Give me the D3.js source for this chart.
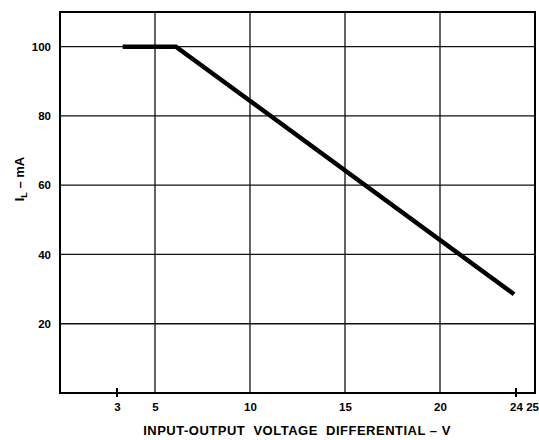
<!DOCTYPE html>
<html>
<head>
<meta charset="utf-8">
<script src="https://cdn.jsdelivr.net/npm/d3@7/dist/d3.min.js"></script>
<style>
  html, body { margin: 0; padding: 0; background: #fff; }
  svg { display: block; font-family: "Liberation Sans", Arial, sans-serif; font-weight: bold; }
</style>
</head>
<body>
<svg id="chart" width="539" height="440"></svg>
<script>
// Data
const lineX = [3.3, 6.1, 23.9];
const lineY = [100, 100, 28.5];
const xTickLabels = [3, 5, 10, 15, 20, 24, 25];
const xGrid = [5, 10, 15, 20];
const xMinorTicks = [3, 24];
const yTickLabels = [20, 40, 60, 80, 100];
const xTitle = "INPUT-OUTPUT  VOLTAGE  DIFFERENTIAL – V";

(function () {
const svg = d3.select("#chart");
const mLeft = 60, mRight = 535, mTop = 12, mBottom = 393;

const x = d3.scaleLinear().domain([0, 25]).range([mLeft, mRight]);
const y = d3.scaleLinear().domain([0, 110]).range([mBottom, mTop]);

// Grid lines
svg.append("g").selectAll("line").data(xGrid).join("line")
  .attr("x1", d => x(d)).attr("x2", d => x(d))
  .attr("y1", mTop).attr("y2", mBottom)
  .attr("stroke", "#111").attr("stroke-width", 1.3);

svg.append("g").selectAll("line").data(yTickLabels).join("line")
  .attr("x1", mLeft).attr("x2", mRight)
  .attr("y1", d => y(d)).attr("y2", d => y(d))
  .attr("stroke", "#111").attr("stroke-width", 1.3);

// Frame
svg.append("rect")
  .attr("x", mLeft).attr("y", mTop)
  .attr("width", mRight - mLeft).attr("height", mBottom - mTop)
  .attr("fill", "none").attr("stroke", "#000").attr("stroke-width", 2);

// Minor ticks on x axis
svg.append("g").selectAll("line").data(xMinorTicks).join("line")
  .attr("x1", d => x(d)).attr("x2", d => x(d))
  .attr("y1", mBottom - 5).attr("y2", mBottom + 4)
  .attr("stroke", "#000").attr("stroke-width", 2);

// X axis labels
const xAxis = d3.axisBottom(x).tickValues(xTickLabels).tickSize(0).tickPadding(10).tickFormat(d3.format("d"));
const gx = svg.append("g").attr("transform", `translate(0,${mBottom})`).call(xAxis);
gx.select(".domain").remove();
gx.selectAll("text").attr("font-size", 11.5).attr("font-weight", "bold")
  .attr("font-family", "Liberation Sans, Arial, sans-serif").attr("fill", "#000");
// keep the last label inside the picture
gx.selectAll(".tick").filter(d => d === 25).select("text")
  .attr("text-anchor", "end").attr("x", 3.5);

// Y axis labels
const yAxis = d3.axisLeft(y).tickValues(yTickLabels).tickSize(0).tickPadding(9).tickFormat(d3.format("d"));
const gy = svg.append("g").attr("transform", `translate(${mLeft},0)`).call(yAxis);
gy.select(".domain").remove();
gy.selectAll("text").attr("font-size", 11.5).attr("font-weight", "bold")
  .attr("font-family", "Liberation Sans, Arial, sans-serif").attr("fill", "#000");

// Data line
const pts = lineX.map((v, i) => [v, lineY[i]]);
svg.append("path")
  .datum(pts)
  .attr("d", d3.line().x(d => x(d[0])).y(d => y(d[1])))
  .attr("fill", "none").attr("stroke", "#000").attr("stroke-width", 4.5)
  .attr("stroke-linejoin", "miter");

// X title
svg.append("text")
  .attr("x", 297).attr("y", 435)
  .attr("text-anchor", "middle")
  .attr("font-size", 13)
  .attr("letter-spacing", 0.5)
  .style("white-space", "pre")
  .text(xTitle);

// Y title
const yt = svg.append("text")
  .attr("transform", "translate(24,179) rotate(-90)")
  .attr("text-anchor", "middle")
  .attr("font-size", 13);
yt.append("tspan").text("I");
yt.append("tspan").attr("font-size", 9).attr("dy", 3).text("L");
yt.append("tspan").attr("dy", -3).text(" – mA");
})();
</script>
</body>
</html>
